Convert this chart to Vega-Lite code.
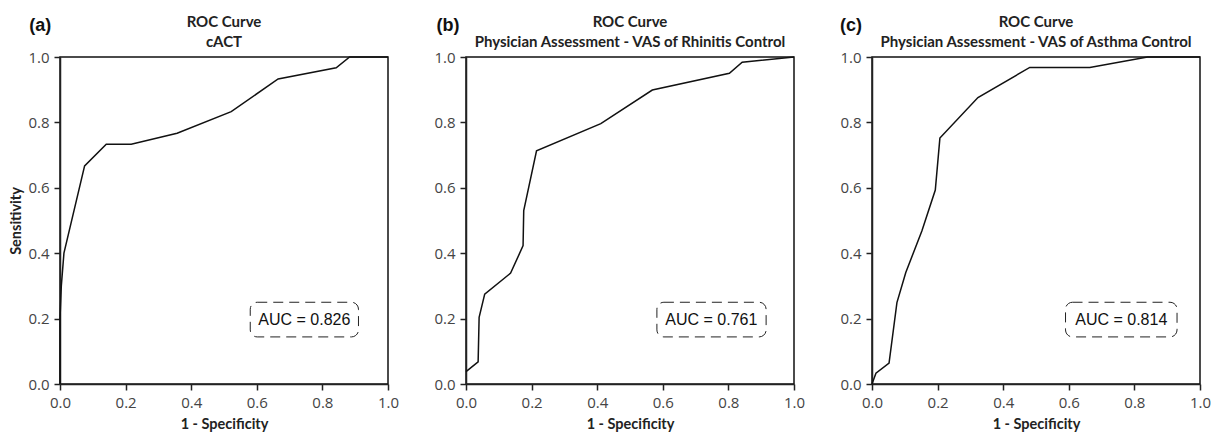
{
  "$schema": "https://vega.github.io/schema/vega-lite/v6.json",
  "padding": {"left": 8, "top": 14, "right": 5, "bottom": 2},
  "datasets": {
    "cact": [
      {"i": 0, "fpr": 0, "tpr": 0},
      {"i": 1, "fpr": 0, "tpr": 0.2},
      {"i": 2, "fpr": 0.004, "tpr": 0.3},
      {"i": 3, "fpr": 0.012, "tpr": 0.4},
      {"i": 4, "fpr": 0.075, "tpr": 0.667},
      {"i": 5, "fpr": 0.141, "tpr": 0.733},
      {"i": 6, "fpr": 0.217, "tpr": 0.733},
      {"i": 7, "fpr": 0.357, "tpr": 0.767},
      {"i": 8, "fpr": 0.522, "tpr": 0.833},
      {"i": 9, "fpr": 0.665, "tpr": 0.933},
      {"i": 10, "fpr": 0.842, "tpr": 0.967},
      {"i": 11, "fpr": 0.883, "tpr": 1},
      {"i": 12, "fpr": 1, "tpr": 1}
    ],
    "rhin": [
      {"i": 0, "fpr": 0, "tpr": 0.038},
      {"i": 1, "fpr": 0.037, "tpr": 0.068},
      {"i": 2, "fpr": 0.04, "tpr": 0.204},
      {"i": 3, "fpr": 0.057, "tpr": 0.275},
      {"i": 4, "fpr": 0.136, "tpr": 0.339},
      {"i": 5, "fpr": 0.174, "tpr": 0.423},
      {"i": 6, "fpr": 0.176, "tpr": 0.53},
      {"i": 7, "fpr": 0.215, "tpr": 0.713},
      {"i": 8, "fpr": 0.411, "tpr": 0.796},
      {"i": 9, "fpr": 0.568, "tpr": 0.899},
      {"i": 10, "fpr": 0.803, "tpr": 0.95},
      {"i": 11, "fpr": 0.842, "tpr": 0.984},
      {"i": 12, "fpr": 1, "tpr": 1}
    ],
    "asth": [
      {"i": 0, "fpr": 0, "tpr": 0},
      {"i": 1, "fpr": 0.012, "tpr": 0.033},
      {"i": 2, "fpr": 0.052, "tpr": 0.064},
      {"i": 3, "fpr": 0.076, "tpr": 0.249},
      {"i": 4, "fpr": 0.103, "tpr": 0.341},
      {"i": 5, "fpr": 0.152, "tpr": 0.468},
      {"i": 6, "fpr": 0.193, "tpr": 0.593},
      {"i": 7, "fpr": 0.207, "tpr": 0.752},
      {"i": 8, "fpr": 0.323, "tpr": 0.876},
      {"i": 9, "fpr": 0.481, "tpr": 0.968},
      {"i": 10, "fpr": 0.664, "tpr": 0.968},
      {"i": 11, "fpr": 0.84, "tpr": 1},
      {"i": 12, "fpr": 1, "tpr": 1}
    ],
    "notes": [
      {"panel": "(a)", "auc": "AUC = 0.826"},
      {"panel": "(b)", "auc": "AUC = 0.761"},
      {"panel": "(c)", "auc": "AUC = 0.814"}
    ]
  },
  "config": {
    "view": {"stroke": "#111", "strokeWidth": 1.5},
    "axis": {
      "grid": false,
      "domainColor": "#222",
      "domainWidth": 1.5,
      "tickColor": "#222",
      "tickWidth": 1.5,
      "tickSize": 6,
      "labelColor": "#444",
      "labelFont": "Open Sans",
      "labelFontSize": 15,
      "labelPadding": 5,
      "labelFlush": false,
      "labelOverlap": false,
      "titleFont": "Lato",
      "titleFontSize": 14.5,
      "titleFontWeight": "bold",
      "titleColor": "#222"
    },
    "axisX": {"titlePadding": 7},
    "title": {"font": "Lato", "fontSize": 15, "fontWeight": "bold", "color": "#222", "lineHeight": 20, "offset": -33},
    "text": {"clip": false}
  },
  "bounds": "flush",
  "spacing": 78,
  "hconcat": [
    {
      "width": 328,
      "height": 327,
      "title": {"text": ["ROC Curve", "cACT"]},
      "layer": [
        {
          "data": {"name": "cact"},
          "mark": {"type": "line", "color": "#111", "strokeWidth": 1.5},
          "encoding": {
            "x": {"field": "fpr", "type": "quantitative", "scale": {"domain": [0, 1]}, "axis": {"values": [0, 0.2, 0.4, 0.6, 0.8, 1], "format": ".1f", "title": "1 - Specificity"}},
            "y": {"field": "tpr", "type": "quantitative", "scale": {"domain": [0, 1]}, "axis": {"values": [0, 0.2, 0.4, 0.6, 0.8, 1], "format": ".1f", "title": "Sensitivity", "titlePadding": 4}},
            "order": {"field": "i"}
          }
        },
        {
          "data": {"name": "notes"},
          "transform": [{"filter": "datum.panel == '(a)'"}],
          "layer": [
            {
              "mark": {"type": "rect", "fill": null, "stroke": "#222", "strokeWidth": 1, "strokeDash": [10, 6], "cornerRadius": 7},
              "encoding": {"x": {"datum": 0.58}, "x2": {"datum": 0.91}, "y": {"datum": 0.144}, "y2": {"datum": 0.25}}
            },
            {
              "mark": {"type": "text", "font": "Liberation Sans", "fontSize": 16, "color": "#111"},
              "encoding": {"x": {"datum": 0.745}, "y": {"datum": 0.197}, "text": {"field": "auc"}}
            },
            {
              "mark": {"type": "text", "font": "Liberation Sans", "fontSize": 18, "fontWeight": "bold", "color": "#111"},
              "encoding": {"x": {"datum": -0.06}, "y": {"datum": 1.095}, "text": {"field": "panel"}}
            }
          ]
        }
      ]
    },
    {
      "width": 328,
      "height": 327,
      "title": {"text": ["ROC Curve", "Physician Assessment - VAS of Rhinitis Control"]},
      "layer": [
        {
          "data": {"name": "rhin"},
          "mark": {"type": "line", "color": "#111", "strokeWidth": 1.5},
          "encoding": {
            "x": {"field": "fpr", "type": "quantitative", "scale": {"domain": [0, 1]}, "axis": {"values": [0, 0.2, 0.4, 0.6, 0.8, 1], "format": ".1f", "title": "1 - Specificity"}},
            "y": {"field": "tpr", "type": "quantitative", "scale": {"domain": [0, 1]}, "axis": {"values": [0, 0.2, 0.4, 0.6, 0.8, 1], "format": ".1f", "title": null}},
            "order": {"field": "i"}
          }
        },
        {
          "data": {"name": "notes"},
          "transform": [{"filter": "datum.panel == '(b)'"}],
          "layer": [
            {
              "mark": {"type": "rect", "fill": null, "stroke": "#222", "strokeWidth": 1, "strokeDash": [10, 6], "cornerRadius": 7},
              "encoding": {"x": {"datum": 0.582}, "x2": {"datum": 0.915}, "y": {"datum": 0.144}, "y2": {"datum": 0.25}}
            },
            {
              "mark": {"type": "text", "font": "Liberation Sans", "fontSize": 16, "color": "#111"},
              "encoding": {"x": {"datum": 0.748}, "y": {"datum": 0.197}, "text": {"field": "auc"}}
            },
            {
              "mark": {"type": "text", "font": "Liberation Sans", "fontSize": 18, "fontWeight": "bold", "color": "#111"},
              "encoding": {"x": {"datum": -0.055}, "y": {"datum": 1.095}, "text": {"field": "panel"}}
            }
          ]
        }
      ]
    },
    {
      "width": 328,
      "height": 327,
      "title": {"text": ["ROC Curve", "Physician Assessment - VAS of Asthma Control"]},
      "layer": [
        {
          "data": {"name": "asth"},
          "mark": {"type": "line", "color": "#111", "strokeWidth": 1.5},
          "encoding": {
            "x": {"field": "fpr", "type": "quantitative", "scale": {"domain": [0, 1]}, "axis": {"values": [0, 0.2, 0.4, 0.6, 0.8, 1], "format": ".1f", "title": "1 - Specificity"}},
            "y": {"field": "tpr", "type": "quantitative", "scale": {"domain": [0, 1]}, "axis": {"values": [0, 0.2, 0.4, 0.6, 0.8, 1], "format": ".1f", "title": null}},
            "order": {"field": "i"}
          }
        },
        {
          "data": {"name": "notes"},
          "transform": [{"filter": "datum.panel == '(c)'"}],
          "layer": [
            {
              "mark": {"type": "rect", "fill": null, "stroke": "#222", "strokeWidth": 1, "strokeDash": [10, 6], "cornerRadius": 7},
              "encoding": {"x": {"datum": 0.59}, "x2": {"datum": 0.93}, "y": {"datum": 0.144}, "y2": {"datum": 0.25}}
            },
            {
              "mark": {"type": "text", "font": "Liberation Sans", "fontSize": 16, "color": "#111"},
              "encoding": {"x": {"datum": 0.76}, "y": {"datum": 0.197}, "text": {"field": "auc"}}
            },
            {
              "mark": {"type": "text", "font": "Liberation Sans", "fontSize": 18, "fontWeight": "bold", "color": "#111"},
              "encoding": {"x": {"datum": -0.064}, "y": {"datum": 1.095}, "text": {"field": "panel"}}
            }
          ]
        }
      ]
    }
  ]
}
